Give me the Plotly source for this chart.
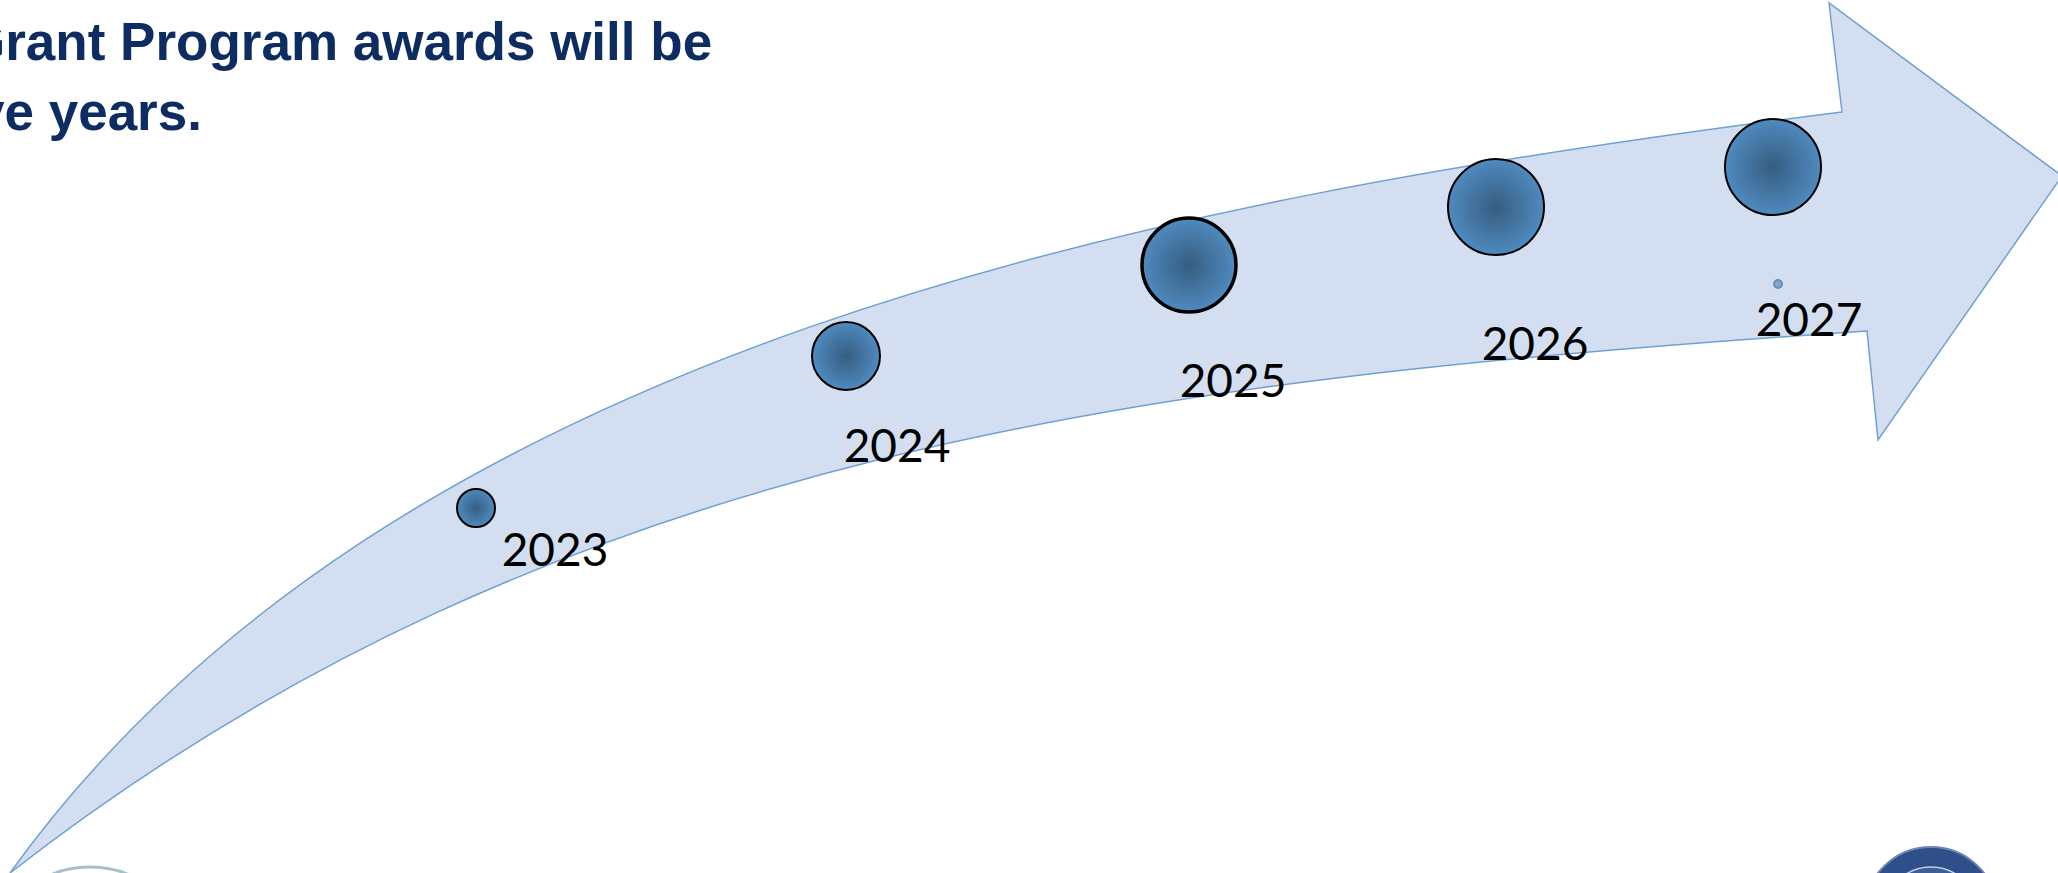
import plotly.graph_objects as go

# ---- data (canvas units) ----
years = ["2023", "2024", "2025", "2026", "2027"]
bubble_x = [476, 846, 1189, 1496, 1773]
bubble_y = [508, 356, 265, 207, 167]
bubble_size = [38, 68, 94, 96, 96]
label_x = [555, 897, 1233, 1535, 1809]
label_y = [547, 443, 378, 341, 317]
extra_point_x = [1778]
extra_point_y = [284]
extra_point_size = [8]

title_line1 = "Grant Program awards will be"
title_line2 = "ve years."

W, H = 2058, 873
LABEL_BASELINE_SHIFT = 7  # plotly centres the line box, digits sit higher

fig = go.Figure()

# curved arrow band (decorative shape)
arrow_path = (
    "M 10 873 "
    "C 390 344.8, 1153 198.5, 1842 112 "
    "L 1829 3 L 2062 176 L 1878 440 L 1867 331 "
    "C 1167 378, 560 444, 10 873 Z"
)
fig.add_shape(type="path", path=arrow_path, xref="x", yref="y",
              fillcolor="#d3dff0", line=dict(color="#6fa0d2", width=1.5),
              layer="below")

# bottom-right seal (partially visible)
fig.add_shape(type="circle", xref="x", yref="y", x0=1864, x1=1998, y0=847, y1=981,
              fillcolor="#2f4f8b", line=dict(color="#6f86b5", width=2), layer="below")
fig.add_shape(type="circle", xref="x", yref="y", x0=1884, x1=1978, y0=867, y1=961,
              fillcolor="#3d5e98", line=dict(color="#c9d3e6", width=1.5), layer="below")
# bottom-left faint logo edge
fig.add_shape(type="circle", xref="x", yref="y", x0=20, x1=160, y0=867, y1=960,
              fillcolor="rgba(255,255,255,0)", line=dict(color="rgba(90,140,160,0.55)", width=3),
              layer="below")

line_widths = [2, 2, 3.5, 2, 2]
fig.add_trace(go.Scatter(
    x=bubble_x, y=bubble_y, mode="markers",
    marker=dict(size=bubble_size, sizemode="diameter", color="#4f8abf",
                gradient=dict(type="radial", color="#365d80"),
                line=dict(color="#000000", width=line_widths), opacity=1),
    hoverinfo="text", text=years, showlegend=False,
))

fig.add_trace(go.Scatter(
    x=extra_point_x, y=extra_point_y, mode="markers",
    marker=dict(size=extra_point_size, color="#5b93c8",
                line=dict(color="#3c6d9c", width=2)),
    hoverinfo="skip", showlegend=False,
))

fig.add_trace(go.Scatter(
    x=label_x, y=[v + LABEL_BASELINE_SHIFT for v in label_y], mode="text", text=years,
    textposition="middle center",
    textfont=dict(family="Lato, 'Open Sans', sans-serif", size=46, color="#000000"),
    hoverinfo="skip", showlegend=False,
))

title_font = dict(family="'Liberation Sans', Arial, sans-serif", size=53, color="#0c2c62")
fig.add_annotation(text="<b>" + title_line1 + "</b>", xref="paper", yref="paper",
                   x=713 / W, y=1 - 41 / H, xanchor="right", yanchor="middle",
                   showarrow=False, font=title_font, borderpad=0)
fig.add_annotation(text="<b>" + title_line2 + "</b>", xref="paper", yref="paper",
                   x=203 / W, y=1 - 111 / H, xanchor="right", yanchor="middle",
                   showarrow=False, font=title_font, borderpad=0)

fig.update_layout(
    width=W, height=H,
    margin=dict(l=0, r=0, t=0, b=0),
    paper_bgcolor="white", plot_bgcolor="white",
    xaxis=dict(range=[0, W], visible=False, fixedrange=True),
    yaxis=dict(range=[H, 0], visible=False, fixedrange=True),
    showlegend=False,
)

fig.write_html("out.html")
